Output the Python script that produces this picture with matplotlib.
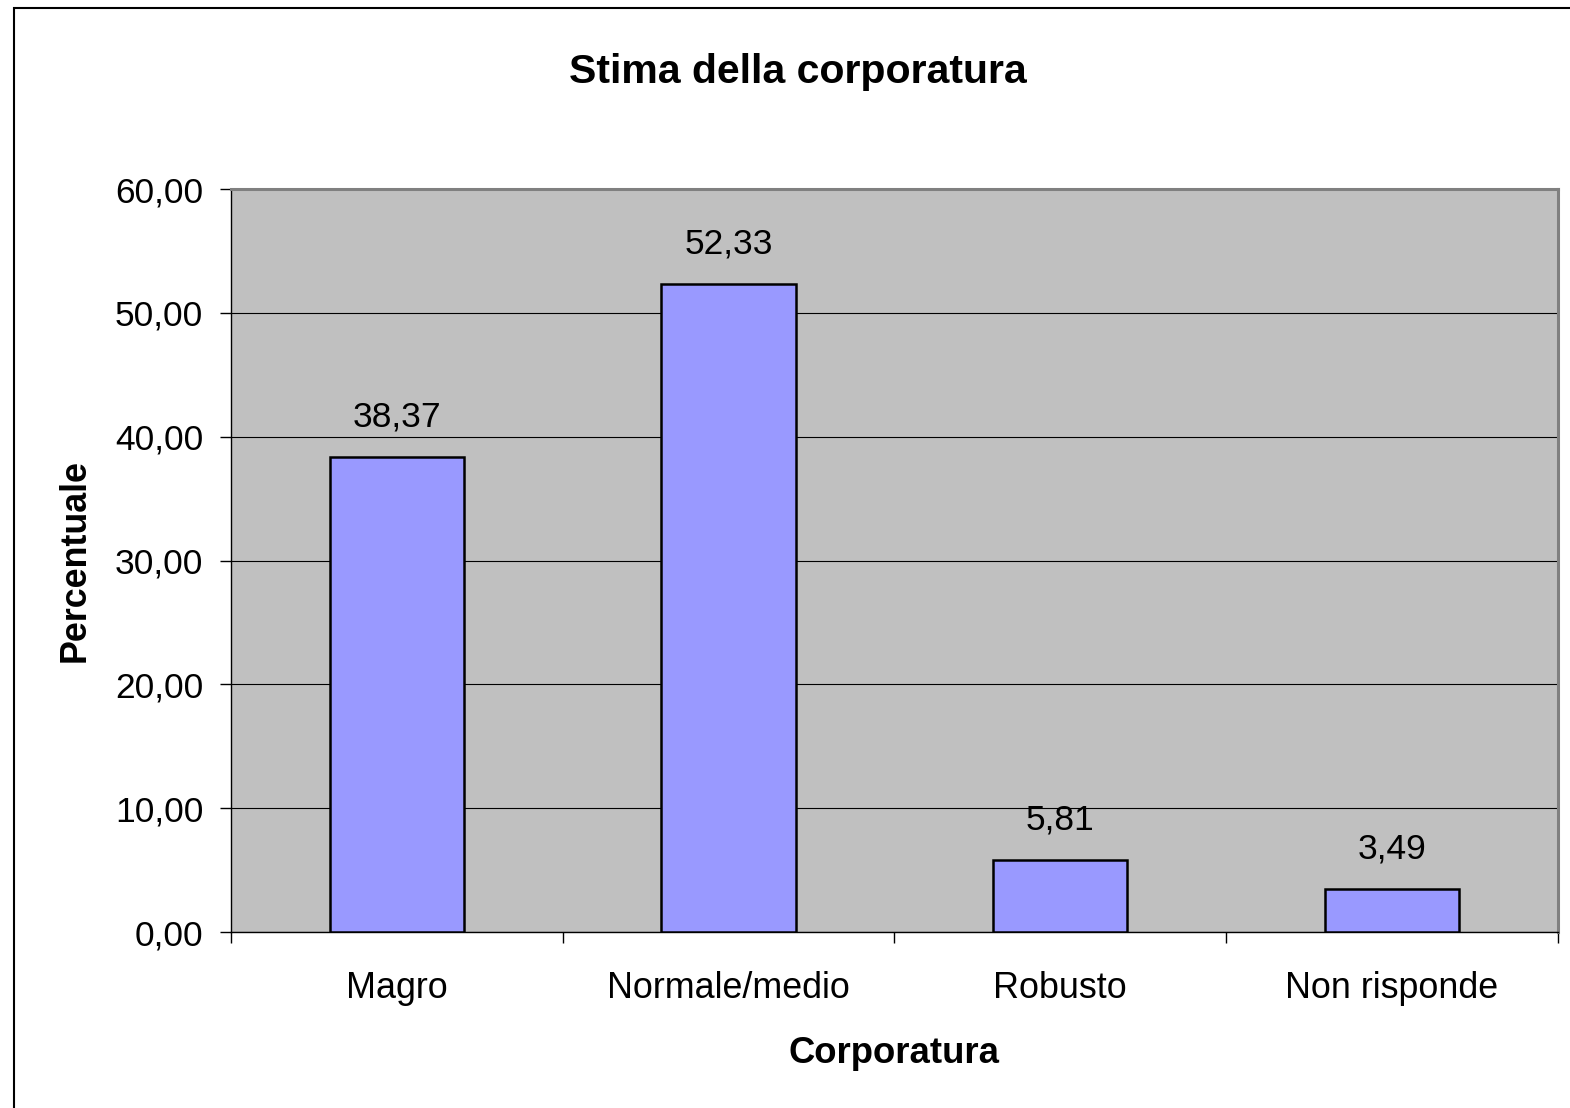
import matplotlib.pyplot as plt
from matplotlib.patches import Rectangle

categories = ["Magro", "Normale/medio", "Robusto", "Non risponde"]
values = [38.37, 52.33, 5.81, 3.49]
yticks = [0, 10, 20, 30, 40, 50, 60]

plt.rcParams['font.family'] = ['Liberation Sans', 'DejaVu Sans']

fig = plt.figure(figsize=(15.7, 11.08), dpi=100)
ax = fig.add_axes([0.1471, 0.1588, 0.8452, 0.6706])
ax.set_facecolor("#C0C0C0")

xs = range(len(categories))
bars = ax.bar(xs, values, width=0.405, color="#9999FF", edgecolor="black", linewidth=1.8, zorder=3)
for x, v in zip(xs, values):
    ax.annotate(f"{v:.2f}".replace(".", ","), (x, v), xytext=(0, 17), textcoords="offset points",
                ha="center", va="bottom", fontsize=25.5)

ax.set_xlim(-0.5, len(categories) - 0.5)
ax.set_ylim(0, 60)
ax.set_yticks(yticks)
ax.set_yticklabels([f"{t:.2f}".replace(".", ",") for t in yticks], fontsize=25.5)
ax.yaxis.grid(True, color="black", linewidth=0.8, zorder=0)
ax.set_axisbelow(True)

# category ticks between groups, labels centered
ax.set_xticks([i - 0.5 for i in range(len(categories) + 1)])
ax.set_xticklabels([])
ax.set_xticks(list(xs), minor=True)
ax.set_xticklabels(categories, minor=True, fontsize=25.8)
ax.tick_params(axis="x", which="minor", length=0, pad=28)
ax.tick_params(axis="x", which="major", length=8, width=1, direction="out")
ax.tick_params(axis="y", length=8, width=1, direction="out", pad=12)

for side in ["top", "right"]:
    ax.spines[side].set_color("#808080")
    ax.spines[side].set_linewidth(2.2)
for side in ["left", "bottom"]:
    ax.spines[side].set_color("black")
    ax.spines[side].set_linewidth(1)

ax.set_xlabel("Corporatura", fontsize=26.3, fontweight="bold", labelpad=22)
ax.set_ylabel("Percentuale", fontsize=25.8, fontweight="bold", labelpad=16)

fig.text(0.508, 0.935, "Stima della corporatura", ha="center", va="center",
         fontsize=29.5, fontweight="bold")

# chart area border
fig.patches.append(Rectangle((14 / 1570, -0.1), 1.2, 1 - 8 / 1108 + 0.1, transform=fig.transFigure,
                             fill=False, edgecolor="black", linewidth=1.5))

fig.savefig("out.png", dpi=100)
